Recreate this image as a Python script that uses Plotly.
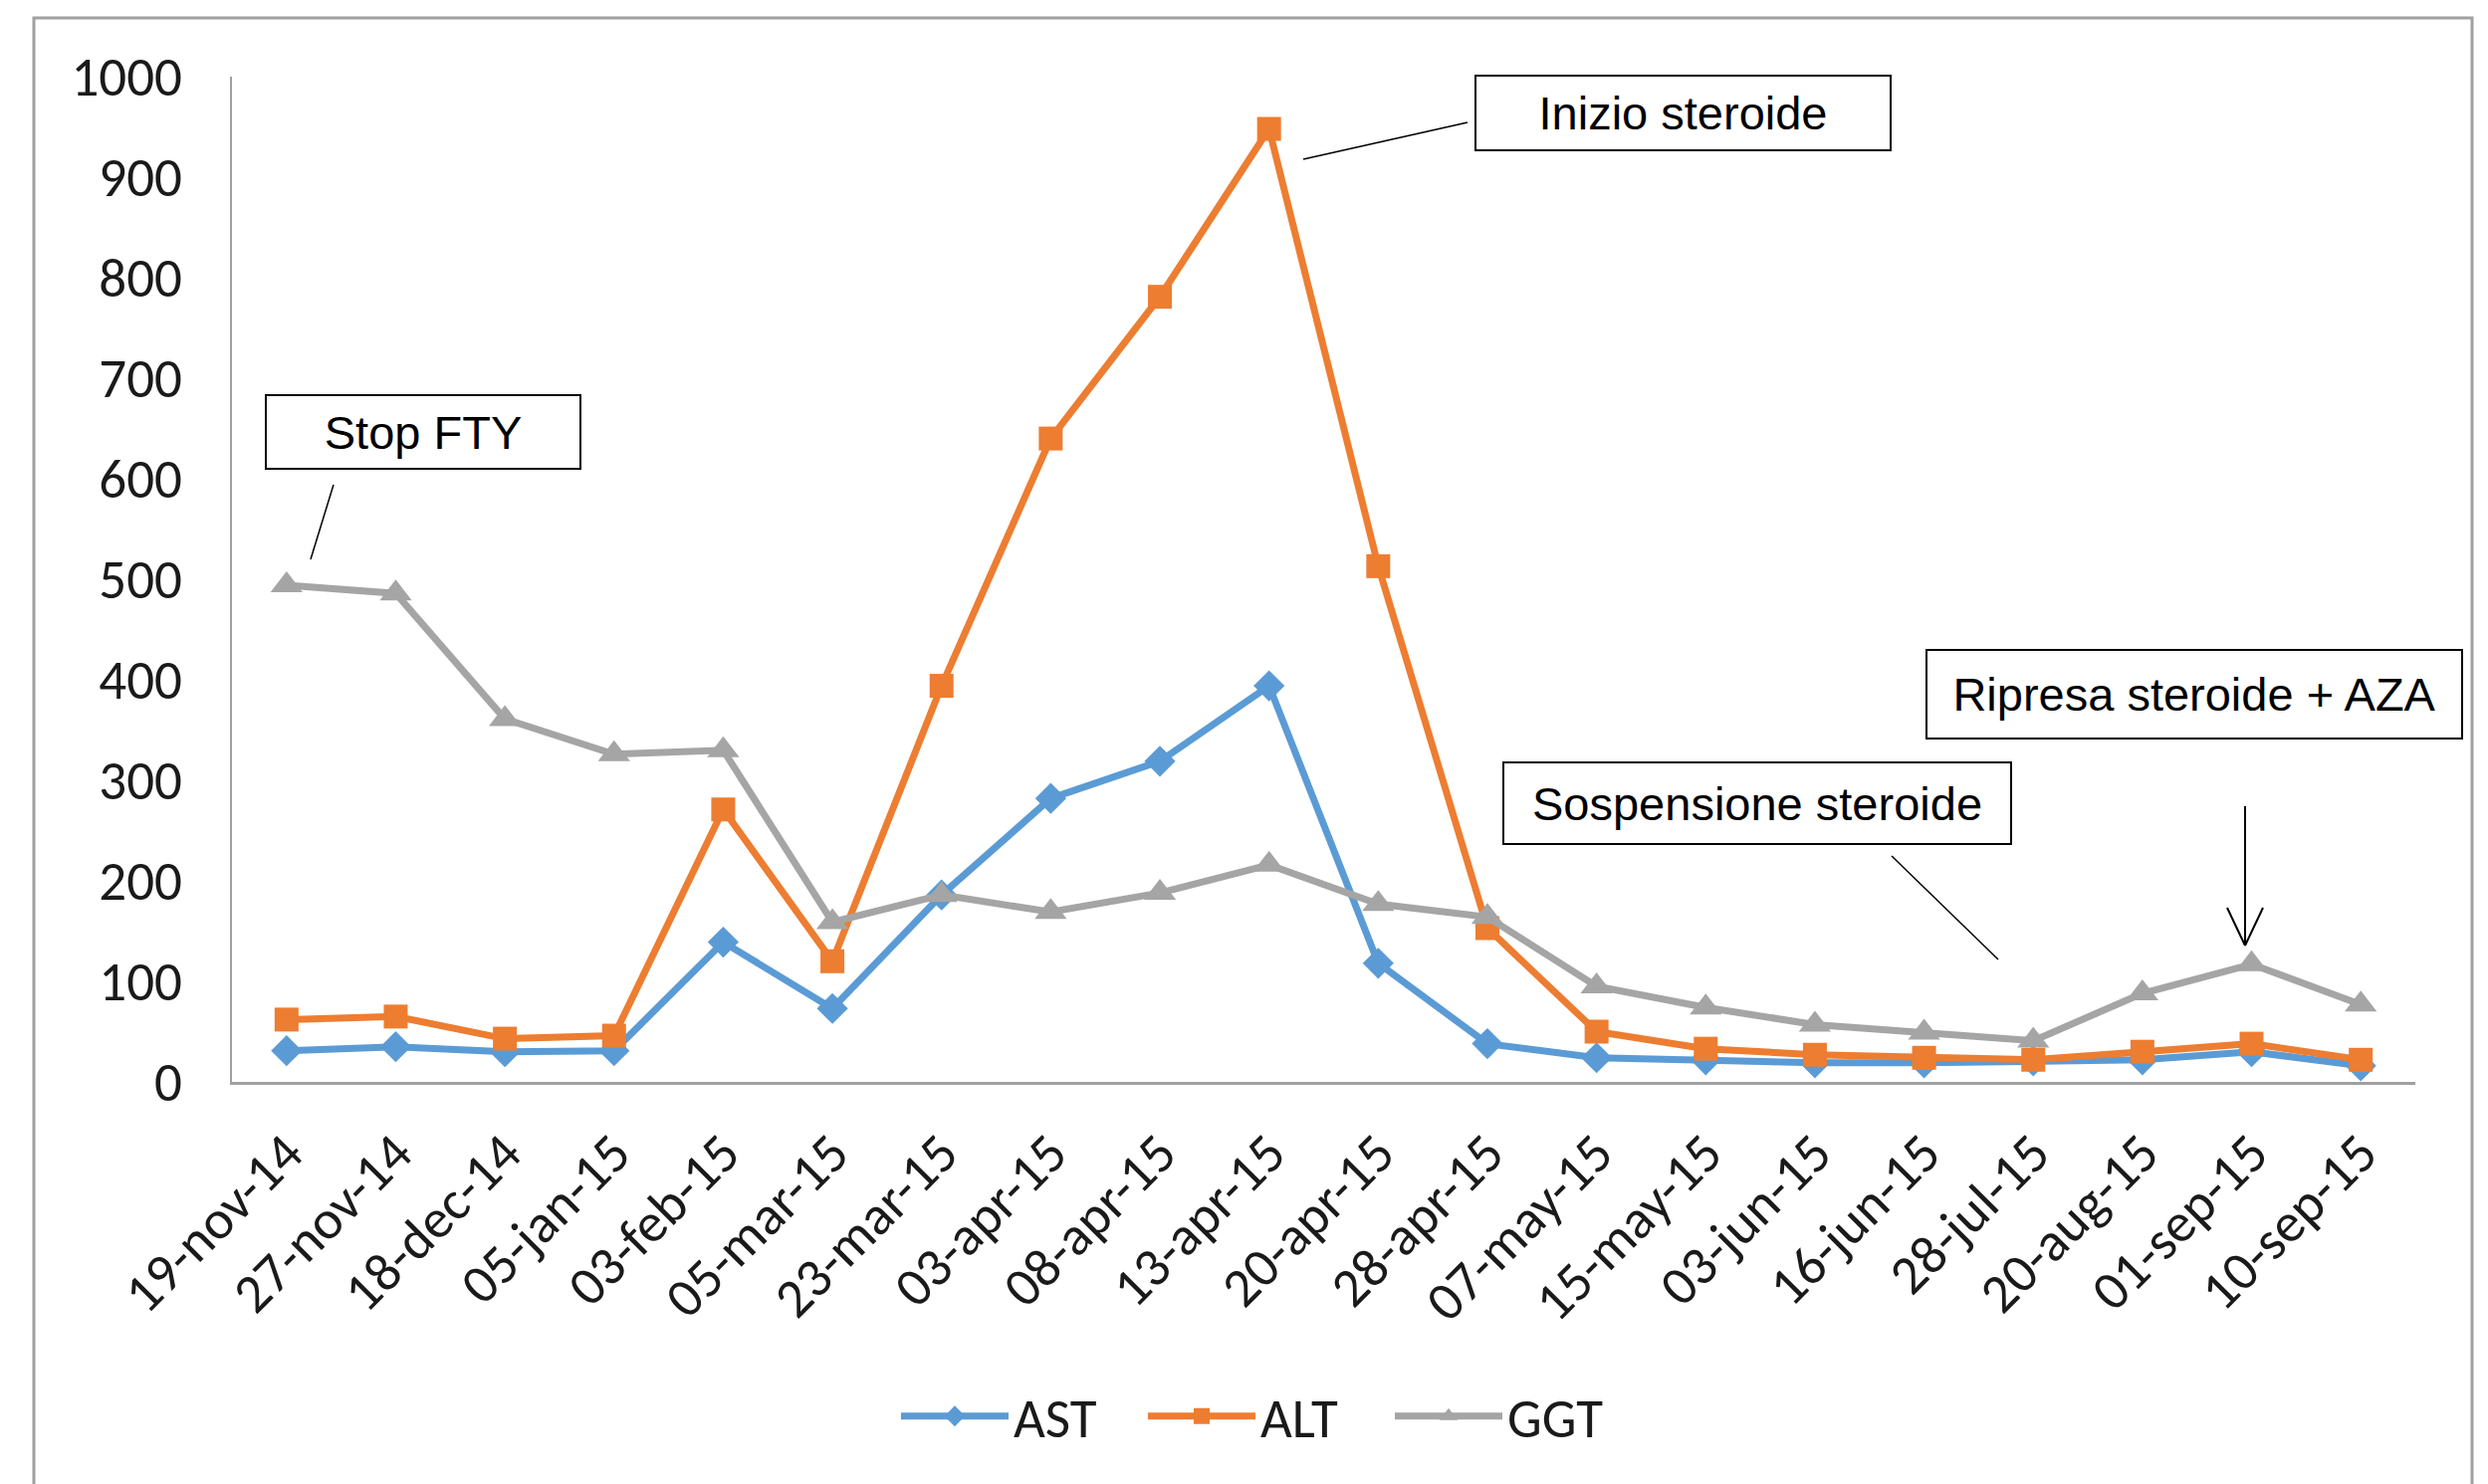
import plotly.graph_objects as go

# Liver enzyme panel over time
dates = ["19-nov-14", "27-nov-14", "18-dec-14", "05-jan-15", "03-feb-15",
         "05-mar-15", "23-mar-15", "03-apr-15", "08-apr-15", "13-apr-15",
         "20-apr-15", "28-apr-15", "07-may-15", "15-may-15", "03-jun-15",
         "16-jun-15", "28-jul-15", "20-aug-15", "01-sep-15", "10-sep-15"]

ast = [31, 35, 30, 31, 139, 73, 186, 282, 319, 394,
       118, 38, 24, 22, 19, 19, 21, 22, 30, 16]
alt = [62, 65, 43, 46, 271, 120, 394, 640, 781, 948,
       513, 153, 50, 33, 27, 24, 22, 30, 38, 22]
ggt = [494, 486, 361, 326, 330, 159, 186, 169, 188, 216,
       177, 164, 95, 74, 57, 49, 41, 88, 117, 77]

y_ticks = [0, 100, 200, 300, 400, 500, 600, 700, 800, 900, 1000]

W, H = 2499, 1491
L, R, T, B = 233, 73, 77, 404
PW, PH = W - L - R, H - T - B


def px_x(px):
    return (px - L) / PW


def px_y(py):
    return (H - B - py) / PH


TICK_FONT = dict(family="Carlito, Lato, sans-serif", size=55, color="#1a1a1a")
NOTE_FONT = dict(family="Liberation Sans, Arial, sans-serif", size=47, color="black")

fig = go.Figure()
fig.add_trace(go.Scatter(x=dates, y=ast, name="AST", mode="lines+markers",
                         line=dict(color="#5B9BD5", width=7),
                         marker=dict(symbol="diamond", size=24, color="#5B9BD5")))
fig.add_trace(go.Scatter(x=dates, y=alt, name="ALT", mode="lines+markers",
                         line=dict(color="#ED7D31", width=7),
                         marker=dict(symbol="square", size=24, color="#ED7D31")))
fig.add_trace(go.Scatter(x=dates, y=ggt, name="GGT", mode="lines+markers",
                         line=dict(color="#A5A5A5", width=7),
                         marker=dict(symbol="triangle-up", size=28, color="#A5A5A5")))

shapes = [
    # outer chart frame
    dict(type="rect", xref="paper", yref="paper",
         x0=px_x(34), x1=px_x(2483), y0=px_y(1560), y1=px_y(18),
         line=dict(color="#A0A0A0", width=3), layer="below"),
    # leader lines
    dict(type="line", xref="paper", yref="paper",
         x0=px_x(335), y0=px_y(487), x1=px_x(312), y1=px_y(562),
         line=dict(color="black", width=1.5)),
    dict(type="line", xref="paper", yref="paper",
         x0=px_x(1474), y0=px_y(123), x1=px_x(1309), y1=px_y(160),
         line=dict(color="black", width=1.5)),
    dict(type="line", xref="paper", yref="paper",
         x0=px_x(1900), y0=px_y(860), x1=px_x(2007), y1=px_y(964),
         line=dict(color="black", width=1.5)),
    # arrow towards the 01-sep-15 point
    dict(type="line", xref="paper", yref="paper",
         x0=px_x(2255), y0=px_y(810), x1=px_x(2255), y1=px_y(950),
         line=dict(color="black", width=2)),
    dict(type="line", xref="paper", yref="paper",
         x0=px_x(2237), y0=px_y(912), x1=px_x(2255), y1=px_y(950),
         line=dict(color="black", width=2)),
    dict(type="line", xref="paper", yref="paper",
         x0=px_x(2273), y0=px_y(912), x1=px_x(2255), y1=px_y(950),
         line=dict(color="black", width=2)),
]


def note(text, x0, y0, x1, y1):
    return dict(xref="paper", yref="paper",
                x=px_x((x0 + x1) / 2), y=px_y((y0 + y1) / 2),
                xanchor="center", yanchor="middle",
                text=text, showarrow=False, font=NOTE_FONT,
                bordercolor="black", borderwidth=2, borderpad=0,
                width=x1 - x0 - 4, height=y1 - y0 - 4, bgcolor="white")


annotations = [
    note("Stop FTY", 266, 396, 584, 472),
    note("Inizio steroide", 1481, 75, 1900, 152),
    note("Ripresa steroide + AZA", 1934, 652, 2474, 743),
    note("Sospensione steroide", 1509, 765, 2021, 849),
]

fig.update_layout(
    width=W, height=H,
    margin=dict(l=L, r=R, t=T, b=B, autoexpand=False),
    paper_bgcolor="white", plot_bgcolor="white",
    showlegend=True,
    legend=dict(orientation="h", x=px_x(900), xanchor="left",
                y=px_y(1423), yanchor="middle",
                font=TICK_FONT, itemwidth=108,
                entrywidth=125, entrywidthmode="pixels",
                bgcolor="rgba(0,0,0,0)"),
    shapes=shapes,
    annotations=annotations,
)

fig.update_xaxes(type="category", categoryorder="array", categoryarray=dates,
                 range=[-0.5, len(dates) - 0.5],
                 showgrid=False, zeroline=False,
                 showline=True, linecolor="#A0A0A0", linewidth=3,
                 ticks="", tickangle=-45, tickfont=TICK_FONT,
                 ticklabelstandoff=14)
fig.update_yaxes(range=[0, 1000], tickvals=y_ticks,
                 ticktext=[str(v) for v in y_ticks],
                 showgrid=False, zeroline=False,
                 showline=True, linecolor="#A0A0A0", linewidth=2,
                 ticks="", tickfont=TICK_FONT, ticklabelstandoff=37)

fig.write_html("out.html")
